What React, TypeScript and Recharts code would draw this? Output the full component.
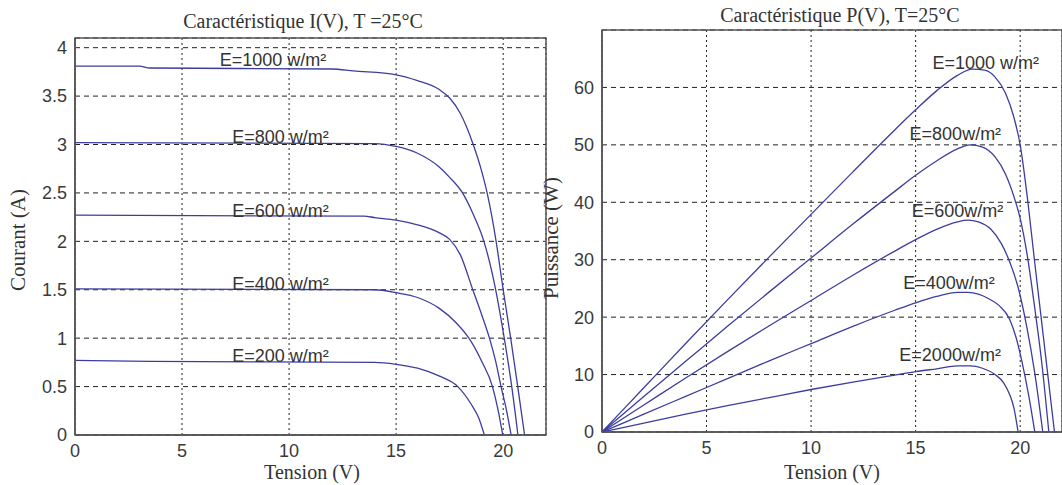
import {
  LineChart,
  Line,
  XAxis,
  YAxis,
  CartesianGrid,
  ReferenceArea,
  ReferenceDot,
} from 'recharts';

const VOLT_TICKS = [0, 5, 10, 15, 20];
const CURRENT_TICKS = [0, 0.5, 1, 1.5, 2, 2.5, 3, 3.5, 4];
const POWER_TICKS = [0, 10, 20, 30, 40, 50, 60];

// I(V) : tension (V) / courant (A)
const IV_V_1000 = [0, 3, 3.5, 12, 13, 15, 16, 17, 17.5, 18, 18.6, 19, 19.25, 19.67, 20.0, 20.35, 20.68, 21.0];
const IV_I_1000 = [3.81, 3.81, 3.79, 3.78, 3.76, 3.72, 3.66, 3.57, 3.48, 3.32, 3.0, 2.72, 2.5, 2.0, 1.5, 1.0, 0.5, 0];
const IV_V_800 = [0, 14, 15, 16, 17, 17.5, 18.1, 18.6, 19.1, 19.65, 20.05, 20.4, 20.69];
const IV_I_800 = [3.02, 3.01, 2.98, 2.91, 2.77, 2.66, 2.5, 2.28, 2.0, 1.5, 1.0, 0.5, 0];
const IV_V_600 = [0, 13.5, 14, 15, 16, 17, 17.5, 18, 18.58, 19.0, 19.36, 19.65, 19.9, 20.15, 20.37];
const IV_I_600 = [2.27, 2.26, 2.245, 2.22, 2.17, 2.09, 2.02, 1.86, 1.5, 1.24, 1.0, 0.76, 0.5, 0.26, 0];
const IV_V_400 = [0, 14, 15, 16, 17, 17.8, 18.4, 19.0, 19.5, 19.75, 19.98];
const IV_I_400 = [1.51, 1.5, 1.47, 1.42, 1.31, 1.16, 1.0, 0.76, 0.5, 0.27, 0];
const IV_V_200 = [0, 3.5, 14, 15, 16, 17, 17.88, 18.5, 18.85, 19.12];
const IV_I_200 = [0.77, 0.76, 0.75, 0.73, 0.69, 0.61, 0.5, 0.32, 0.18, 0];

// P(V) : tension (V) / puissance (W)
const PV_V_1000 = [0, 2, 4, 6, 8, 10, 12, 14, 15, 16, 17, 17.7, 18.3, 18.8, 19.3, 19.7, 20, 20.37, 20.68, 21.0, 21.32, 21.64];
const PV_P_1000 = [0, 7.7, 15.4, 23.0, 30.5, 37.9, 45.3, 52.6, 56.1, 59.4, 62.1, 63.2, 63.0, 61.8, 59.0, 54.8, 50.0, 40, 30, 20, 10, 0];
const PV_V_800 = [0, 2, 4, 6, 8, 10, 12, 14, 15, 16, 17, 17.6, 18.2, 18.8, 19.3, 19.7, 20.0, 20.35, 20.7, 21.05, 21.37];
const PV_P_800 = [0, 6.2, 12.3, 18.4, 24.4, 30.3, 36.2, 41.9, 44.7, 47.2, 49.3, 50.0, 49.6, 47.9, 44.9, 41.0, 37.2, 30.5, 21.5, 11.5, 0];
const PV_V_600 = [0, 2, 4, 6, 8, 10, 12, 14, 15, 16, 17, 17.5, 18, 18.6, 19.1, 19.5, 19.9, 20.3, 20.7, 21.08];
const PV_P_600 = [0, 4.7, 9.4, 14.0, 18.5, 22.9, 27.3, 31.5, 33.5, 35.3, 36.6, 36.9, 36.6, 35.3, 32.8, 29.6, 25.2, 18.6, 10.2, 0];
const PV_V_400 = [0, 2, 4, 6, 8, 10, 12, 14, 15, 16, 17, 17.5, 18, 18.5, 19, 19.5, 19.8, 20.1, 20.4, 20.7];
const PV_P_400 = [0, 3.1, 6.2, 9.3, 12.4, 15.4, 18.4, 21.2, 22.5, 23.6, 24.3, 24.3, 24.0, 23.2, 22.0, 19.6, 16.5, 12.0, 6.5, 0];
const PV_V_200 = [0, 2, 4, 6, 8, 10, 12, 14, 15, 16, 17, 17.6, 18.2, 18.8, 19.2, 19.5, 19.7, 19.9];
const PV_P_200 = [0, 1.55, 3.1, 4.6, 6.0, 7.4, 8.7, 9.9, 10.5, 11.0, 11.5, 11.5, 11.1, 10.0, 8.6, 6.5, 4.2, 0];

const IV_LABELS = [
  { text: 'E=1000 w/m²', v: 9.25, y: 3.88 },
  { text: 'E=800 w/m²', v: 9.6, y: 3.08 },
  { text: 'E=600 w/m²', v: 9.6, y: 2.32 },
  { text: 'E=400 w/m²', v: 9.6, y: 1.56 },
  { text: 'E=200 w/m²', v: 9.6, y: 0.82 },
];

const PV_LABELS = [
  { text: 'E=1000 w/m²', v: 18.35, y: 64.4 },
  { text: 'E=800w/m²', v: 16.9, y: 51.9 },
  { text: 'E=600w/m²', v: 17.0, y: 38.6 },
  { text: 'E=400w/m²', v: 16.6, y: 26.1 },
  { text: 'E=2000w/m²', v: 16.65, y: 13.5 },
];

const zip = (xs: number[], ys: number[]) => xs.map((v, k) => ({ v, y: ys[k] }));

const IV_SERIES = [
  zip(IV_V_1000, IV_I_1000),
  zip(IV_V_800, IV_I_800),
  zip(IV_V_600, IV_I_600),
  zip(IV_V_400, IV_I_400),
  zip(IV_V_200, IV_I_200),
];
const PV_SERIES = [
  zip(PV_V_1000, PV_P_1000),
  zip(PV_V_800, PV_P_800),
  zip(PV_V_600, PV_P_600),
  zip(PV_V_400, PV_P_400),
  zip(PV_V_200, PV_P_200),
];

const LINE = '#3d3d9f';
const AXIS = '#555';
const SANS = '"Liberation Sans", Arial, sans-serif';
const SERIF = '"Liberation Serif", "Times New Roman", serif';
const tick = { fill: '#3a3a3a', fontSize: 18, fontFamily: SANS };

function Panel({
  series,
  labels,
  yMax,
  yTicks,
  width,
  height,
  margin,
  yWidth,
  xHeight,
}: {
  series: { v: number; y: number }[][];
  labels: { text: string; v: number; y: number }[];
  yMax: number;
  yTicks: number[];
  width: number;
  height: number;
  margin: { top: number; right: number; bottom: number; left: number };
  yWidth: number;
  xHeight: number;
}) {
  return (
    <LineChart width={width} height={height} margin={margin}>
      {/* grille : tirets horizontaux, pointillés verticaux */}
      <CartesianGrid vertical={false} stroke="#222" strokeDasharray="5 4" />
      <CartesianGrid horizontal={false} stroke="#222" strokeDasharray="2 3" />
      <XAxis
        type="number"
        dataKey="v"
        domain={[0, 22]}
        ticks={VOLT_TICKS}
        allowDataOverflow
        height={xHeight}
        tick={tick}
        tickLine={false}
        tickMargin={3}
        axisLine={{ stroke: AXIS, strokeWidth: 1.5 }}
      />
      <YAxis
        type="number"
        dataKey="y"
        domain={[0, yMax]}
        ticks={yTicks}
        allowDataOverflow
        width={yWidth}
        tick={tick}
        tickLine={false}
        tickSize={6}
        tickMargin={2}
        axisLine={{ stroke: AXIS, strokeWidth: 1.5 }}
      />
      <ReferenceArea
        x1={0}
        x2={22}
        y1={0}
        y2={yMax}
        fill="none"
        stroke={AXIS}
        strokeWidth={1.5}
        ifOverflow="visible"
      />
      {series.map((d, k) => (
        <Line
          key={k}
          data={d}
          dataKey="y"
          type="monotone"
          stroke={LINE}
          strokeWidth={1.3}
          dot={false}
          isAnimationActive={false}
        />
      ))}
      {labels.map((l) => (
        <ReferenceDot
          key={l.text}
          x={l.v}
          y={l.y}
          r={1}
          fill="none"
          stroke="none"
          ifOverflow="visible"
          label={{
            value: l.text,
            position: 'center',
            fill: '#333',
            fontSize: 18,
            fontFamily: SANS,
          }}
        />
      ))}
    </LineChart>
  );
}

export default function App() {
  return (
    <div
      style={{
        position: 'absolute',
        left: 0,
        top: 0,
        width: 1062,
        height: 485,
        background: '#fff',
        overflow: 'hidden',
      }}
    >
      <div style={{ position: 'absolute', left: 0, top: 0 }}>
        <Panel
          series={IV_SERIES}
          labels={IV_LABELS}
          yMax={4.1}
          yTicks={CURRENT_TICKS}
          width={560}
          height={485}
          margin={{ top: 38, right: 14, bottom: 0, left: 0 }}
          yWidth={75}
          xHeight={50}
        />
      </div>
      <div style={{ position: 'absolute', left: 560, top: 0 }}>
        <Panel
          series={PV_SERIES}
          labels={PV_LABELS}
          yMax={70}
          yTicks={POWER_TICKS}
          width={502}
          height={485}
          margin={{ top: 30, right: 0, bottom: 0, left: 0 }}
          yWidth={42}
          xHeight={53}
        />
      </div>
      <svg
        width={1062}
        height={485}
        style={{ position: 'absolute', left: 0, top: 0, pointerEvents: 'none' }}
        fontFamily={SERIF}
        fill="#333"
      >
        <text x={303} y={23} fontSize={20} textAnchor="middle" dominantBaseline="middle">
          Caractéristique I(V), T =25°C
        </text>
        <text x={840} y={17} fontSize={20} textAnchor="middle" dominantBaseline="middle">
          Caractéristique P(V), T=25°C
        </text>
        <text x={312} y={474} fontSize={20} textAnchor="middle" dominantBaseline="middle">
          Tension (V)
        </text>
        <text x={832} y={474} fontSize={20} textAnchor="middle" dominantBaseline="middle">
          Tension (V)
        </text>
        <text
          x={20}
          y={240}
          fontSize={21}
          textAnchor="middle"
          dominantBaseline="middle"
          transform="rotate(-90 20 240)"
        >
          Courant (A)
        </text>
        <text
          x={553}
          y={238}
          fontSize={21}
          textAnchor="middle"
          dominantBaseline="middle"
          transform="rotate(-90 553 238)"
        >
          Puissance (W)
        </text>
      </svg>
    </div>
  );
}
